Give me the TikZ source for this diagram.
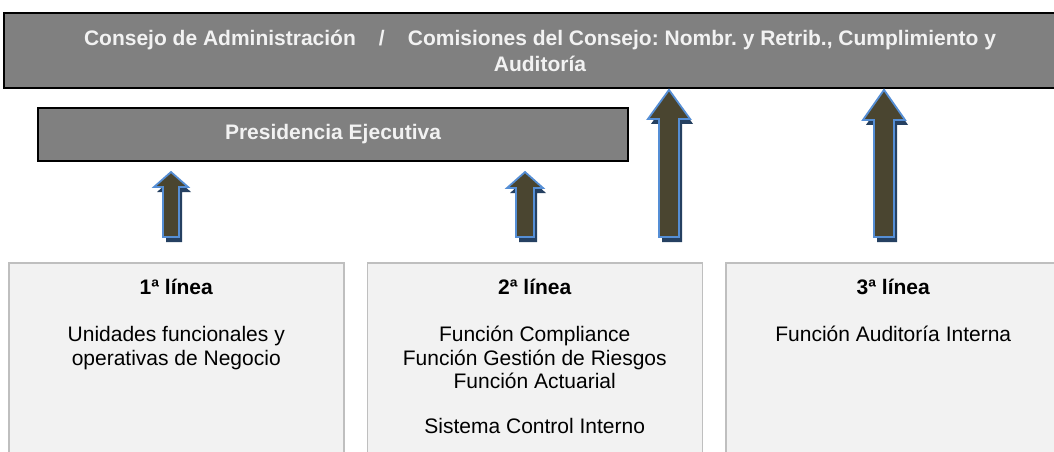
\documentclass[tikz,border=0pt]{standalone}
\usepackage{fontspec}
\setmainfont{Liberation Sans}
\usetikzlibrary{calc, positioning}
\frenchspacing

\definecolor{bargray}{HTML}{808080}
\definecolor{boxfill}{HTML}{F2F2F2}
\definecolor{boxline}{HTML}{BFBFBF}
\definecolor{arrowfill}{HTML}{4A4530}
\definecolor{arrowline}{HTML}{558ED5}
\definecolor{arrowshade}{HTML}{254061}

\tikzset{
  graybar/.style={draw=black, line width=1.8pt, fill=bargray, text=boxfill,
    font=\bfseries\fontsize{21}{26}\selectfont, align=center, inner sep=0pt},
  linebox/.style={draw=boxline, line width=1.5pt, fill=boxfill, minimum width=335pt,
    minimum height=220pt, anchor=north west, inner sep=0pt},
  linetitle/.style={font=\bfseries\fontsize{21}{23.5}\selectfont, anchor=base, inner sep=0pt},
  linetext/.style={font=\fontsize{21}{23.5}\selectfont, align=center, anchor=north, inner sep=0pt},
  arrowbody/.style={fill=arrowfill, draw=arrowline, line width=1.8pt, line join=miter},
  arrowshadow/.style={fill=arrowshade}
}

% block arrow: #1 foot, #2 tip, #3 half shaft, #4 half head, #5 head length
\newcommand{\blockarrow}[5]{%
  \path[arrowshadow] let \p1=($(#1)+(3,5)$), \p2=($(#2)+(3,5)$) in
    (\x1-#3pt,\y1) -- (\x1-#3pt,\y2-#5pt) -- (\x1-#4pt,\y2-#5pt) -- (\x2,\y2)
    -- (\x1+#4pt,\y2-#5pt) -- (\x1+#3pt,\y2-#5pt) -- (\x1+#3pt,\y1) -- cycle;
  \path[arrowbody] let \p1=(#1), \p2=(#2) in
    (\x1-#3pt,\y1) -- (\x1-#3pt,\y2-#5pt) -- (\x1-#4pt,\y2-#5pt) -- (\x2,\y2)
    -- (\x1+#4pt,\y2-#5pt) -- (\x1+#3pt,\y2-#5pt) -- (\x1+#3pt,\y1) -- cycle;
}

\begin{document}
\begin{tikzpicture}[x=1pt, y=-1pt]
    \useasboundingbox[fill=white] (0,0) rectangle (1054,451);
    % governing bodies
    \node[graybar, minimum width=1072pt, minimum height=75pt] (consejo) at (540,50.5)
      {Consejo de Administración\hspace{1.1em}/\hspace{1.1em}Comisiones del Consejo: Nombr. y Retrib., Cumplimiento y\\Auditoría};
    \node[graybar, minimum width=590pt, minimum height=53pt] (presidencia) at (333,134.5)
      {Presidencia Ejecutiva};
    % the three lines
    \node[linebox] (linea1) at (8,262) {};
    \node[linebox, right=22pt of linea1] (linea2) {};
    \node[linebox, right=22pt of linea2] (linea3) {};
    \node[linetitle] (tit1) at ($(linea1.north)+(0,32)$) {1ª línea};
    \node[linetitle] (tit2) at ($(linea2.north)+(0,32)$) {2ª línea};
    \node[linetitle] (tit3) at ($(linea3.north)+(0,32)$) {3ª línea};
    \node[linetext] (txt1) at ($(linea1.north)+(0,63)$)
      {\strut Unidades funcionales y\\operativas de Negocio};
    \node[linetext] (txt2) at ($(linea2.north)+(0,63)$)
      {\strut Función Compliance\\Función Gestión de Riesgos\\Función Actuarial\\[21.5pt]Sistema Control Interno};
    \node[linetext] (txt3) at ($(linea3.north)+(0,63)$)
      {\strut Función Auditoría Interna};
    % arrows
    \coordinate (foot1) at (171,237);
    \coordinate (tip1) at (171,172);
    \coordinate (foot2) at (525,237);
    \coordinate (tip2) at (525,172);
    \coordinate (foot3) at (669,237);
    \coordinate (tip3) at ($(foot3 |- consejo.south)+(0,1)$);
    \coordinate (foot4) at (884,237);
    \coordinate (tip4) at ($(foot4 |- consejo.south)+(0,1)$);
    \blockarrow{foot1}{tip1}{8}{17}{15}
    \blockarrow{foot2}{tip2}{9}{18}{16}
    \blockarrow{foot3}{tip3}{10}{21}{29}
    \blockarrow{foot4}{tip4}{10}{21}{30}
\end{tikzpicture}
\end{document}
